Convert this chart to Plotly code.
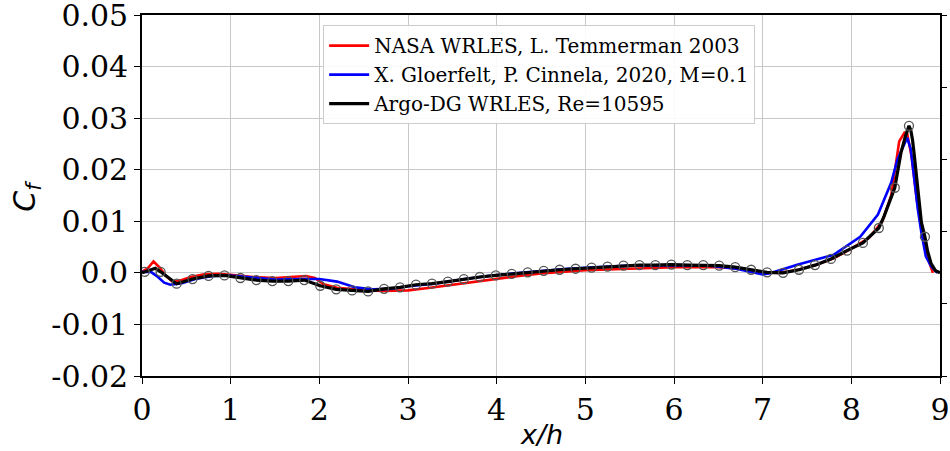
import plotly.graph_objects as go

# ---------------- data ----------------
nasa_x = [0.0, 0.06, 0.13, 0.2, 0.27, 0.35, 0.45, 0.55, 0.7, 0.85, 1.0, 1.25, 1.5, 1.7, 1.85, 1.95,
          2.05, 2.2, 2.4, 2.7, 3.0, 3.25, 3.5, 3.75, 4.0, 4.25, 4.5, 4.75, 5.0, 5.5, 6.0, 6.5,
          6.75, 6.9, 7.0, 7.2, 7.4, 7.6, 7.8, 8.0, 8.2, 8.35, 8.45, 8.54, 8.6, 8.63, 8.68,
          8.74, 8.8, 8.86, 8.92]
nasa_cf = [0.0002, 0.0008, 0.0022, 0.0010, -0.0006, -0.0018, -0.0014, -0.0008, -0.0003, -0.0002,
           -0.0004, -0.0008, -0.0010, -0.0008, -0.0006, -0.0010, -0.0022, -0.0029, -0.0032,
           -0.0035, -0.0034, -0.0029, -0.0023, -0.0017, -0.0012, -0.0006, -0.0001, 0.0002,
           0.0005, 0.0008, 0.0011, 0.0011, 0.0008, 0.0004, 0.0001, 0.0000, 0.0006, 0.0015,
           0.0028, 0.0047, 0.0068, 0.0100, 0.0150, 0.0255, 0.0272, 0.0270, 0.0225, 0.0140,
           0.0075, 0.0030, 0.0000]

gloer_x = [0.0, 0.1, 0.18, 0.25, 0.32, 0.45, 0.6, 0.8, 1.0, 1.2, 1.5, 1.8, 2.0, 2.2, 2.4, 2.6,
           2.8, 3.0, 3.3, 3.6, 3.9, 4.2, 4.5, 4.8, 5.1, 5.5, 6.0, 6.4, 6.7, 6.9, 7.0, 7.1, 7.4,
           7.8, 8.1, 8.3, 8.45, 8.52, 8.63, 8.67, 8.71, 8.75, 8.79, 8.84, 8.9, 8.97]
gloer_cf = [0.0002, 0.0002, -0.0008, -0.0019, -0.0023, -0.0020, -0.0012, -0.0006, -0.0005,
            -0.0008, -0.0013, -0.0012, -0.0012, -0.0017, -0.0028, -0.0032, -0.0031, -0.0026,
            -0.0021, -0.0013, -0.0006, -0.0001, 0.0004, 0.0008, 0.0011, 0.0014, 0.0015, 0.0014,
            0.0008, 0.0000, -0.0003, 0.0000, 0.0016, 0.0035, 0.0070, 0.0113, 0.0175, 0.0220,
            0.0262, 0.0240, 0.0175, 0.0123, 0.0078, 0.0032, 0.0013, 0.0000]

argo_x = [0.0, 0.03, 0.15, 0.21, 0.39, 0.57, 0.75, 0.93, 1.11, 1.29, 1.47, 1.65, 1.83, 2.01, 2.19,
          2.37, 2.55, 2.73, 2.91, 3.09, 3.27, 3.45, 3.63, 3.81, 3.99, 4.17, 4.35, 4.53, 4.71,
          4.89, 5.07, 5.25, 5.43, 5.61, 5.79, 5.97, 6.15, 6.33, 6.51, 6.69, 6.87, 7.05, 7.23,
          7.41, 7.59, 7.77, 7.95, 8.13, 8.31, 8.37, 8.49, 8.56, 8.61, 8.65, 8.67, 8.69, 8.71,
          8.73, 8.76, 8.79, 8.83, 8.86, 8.9, 8.95, 9.0]
argo_cf = [0.0, 0.0002, 0.0009, 0.0002, -0.0021, -0.0012, -0.0006, -0.0005, -0.0010, -0.0014,
           -0.0016, -0.0016, -0.0014, -0.0025, -0.0032, -0.0034, -0.0036, -0.0031, -0.0028,
           -0.0023, -0.0021, -0.0017, -0.0012, -0.0008, -0.0005, -0.0002, 0.0001, 0.0004,
           0.0006, 0.0008, 0.0010, 0.0012, 0.0014, 0.0015, 0.0015, 0.0016, 0.0015, 0.0015,
           0.0014, 0.0011, 0.0006, 0.0001, 0.0000, 0.0006, 0.0015, 0.0027, 0.0043, 0.0058,
           0.0087, 0.0110, 0.0165, 0.0233, 0.0265, 0.0285, 0.0277, 0.0258, 0.0228, 0.0194,
           0.0140, 0.0098, 0.0070, 0.0042, 0.0018, 0.0004, 0.0]

argo_mark_x = [0.03, 0.21, 0.39, 0.57, 0.75, 0.93, 1.11, 1.29, 1.47, 1.65, 1.83, 2.01, 2.19, 2.37,
               2.55, 2.73, 2.91, 3.09, 3.27, 3.45, 3.63, 3.81, 3.99, 4.17, 4.35, 4.53, 4.71,
               4.89, 5.07, 5.25, 5.43, 5.61, 5.79, 5.97, 6.15, 6.33, 6.51, 6.69, 6.87, 7.05,
               7.23, 7.41, 7.59, 7.77, 7.95, 8.13, 8.31, 8.49, 8.65, 8.83]
argo_mark_cf = [0.0002, 0.0002, -0.0021, -0.0012, -0.0006, -0.0005, -0.0010, -0.0014, -0.0016,
                -0.0016, -0.0014, -0.0025, -0.0032, -0.0034, -0.0036, -0.0031, -0.0028,
                -0.0023, -0.0021, -0.0017, -0.0012, -0.0008, -0.0005, -0.0002, 0.0001, 0.0004,
                0.0006, 0.0008, 0.0010, 0.0012, 0.0014, 0.0015, 0.0015, 0.0016, 0.0015, 0.0015,
                0.0014, 0.0011, 0.0006, 0.0001, 0.0000, 0.0006, 0.0015, 0.0027, 0.0043, 0.0058,
                0.0087, 0.0165, 0.0285, 0.0070]

series_names = ["NASA WRLES, L. Temmerman 2003",
                "X. Gloerfelt, P. Cinnela, 2020, M=0.1",
                "Argo-DG WRLES, Re=10595"]

x_ticks = [0, 1, 2, 3, 4, 5, 6, 7, 8, 9]
y_ticks = [-0.02, -0.01, 0.0, 0.01, 0.02, 0.03, 0.04, 0.05]
y_tick_labels = ["-0.02", "-0.01", "0.0", "0.01", "0.02", "0.03", "0.04", "0.05"]
right_ticks = [0, 1, 2, 3, 4, 5]

# ---------------- figure ----------------
SERIF = "DejaVu Serif"
fig = go.Figure()
fig.add_trace(go.Scatter(x=nasa_x, y=nasa_cf, mode="lines", name=series_names[0],
                         line=dict(color="#ff0000", width=2.6)))
fig.add_trace(go.Scatter(x=gloer_x, y=gloer_cf, mode="lines", name=series_names[1],
                         line=dict(color="#0000ff", width=2.6)))
fig.add_trace(go.Scatter(x=argo_x, y=argo_cf, mode="lines", name=series_names[2],
                         line=dict(color="#000000", width=3.2)))
fig.add_trace(go.Scatter(x=argo_mark_x, y=argo_mark_cf, mode="markers", showlegend=False,
                         marker=dict(symbol="circle-open", size=9, color="#555555",
                                     line=dict(width=1.3, color="#555555"))))
# invisible trace so that the right-hand (secondary) axis is drawn
fig.add_trace(go.Scatter(x=[None], y=[None], yaxis="y2", showlegend=False, hoverinfo="skip"))

fig.update_layout(
    width=950, height=451,
    margin=dict(l=142, r=10, t=15, b=75),
    paper_bgcolor="white", plot_bgcolor="white",
    font=dict(family=SERIF, color="black"),
    xaxis=dict(range=[0, 9], tickvals=x_ticks, ticks="outside", ticklen=6, tickwidth=1.3,
               tickcolor="black", showline=True, linecolor="black", linewidth=1.6,
               mirror=True, showgrid=True, gridcolor="#c8c8c8", gridwidth=1,
               zeroline=False, tickfont=dict(family=SERIF, size=30), automargin=False,
               ticklabeloverflow="allow"),
    yaxis=dict(range=[-0.02, 0.0500001], tickvals=y_ticks, ticktext=y_tick_labels,
               ticks="outside", ticklen=6, tickwidth=1.3, tickcolor="black",
               showline=True, linecolor="black", linewidth=1.6, mirror=True,
               showgrid=True, gridcolor="#c8c8c8", gridwidth=1, zeroline=False,
               tickfont=dict(family=SERIF, size=30), automargin=False,
               ticklabeloverflow="allow"),
    yaxis2=dict(overlaying="y", side="right", range=[0, 5], tickvals=right_ticks,
                showticklabels=False, ticks="outside", ticklen=6, tickwidth=1.3,
                tickcolor="black", showgrid=False, zeroline=False, showline=False,
                automargin=False),
    legend=dict(x=0.227, y=0.972, xanchor="left", yanchor="top",
                bgcolor="rgba(255,255,255,0.9)", bordercolor="#cccccc", borderwidth=1,
                font=dict(family=SERIF, size=20), itemwidth=40, tracegroupgap=0),
    showlegend=True,
    annotations=[
        dict(text="<i>x/h</i>", xref="paper", yref="paper", x=0.5, y=-0.163,
             xanchor="center", yanchor="middle", showarrow=False,
             font=dict(family="DejaVu Sans", size=27)),
        dict(text="<i>C</i><sub><i>f</i></sub>", xref="paper", yref="paper",
             x=-0.145, y=0.5, xanchor="center", yanchor="middle", showarrow=False,
             textangle=-90, font=dict(family="DejaVu Sans", size=30)),
    ],
)

fig.write_html("out.html", config={"displayModeBar": False},
               post_script="document.body.style.margin='0';document.body.style.overflow='hidden';")
